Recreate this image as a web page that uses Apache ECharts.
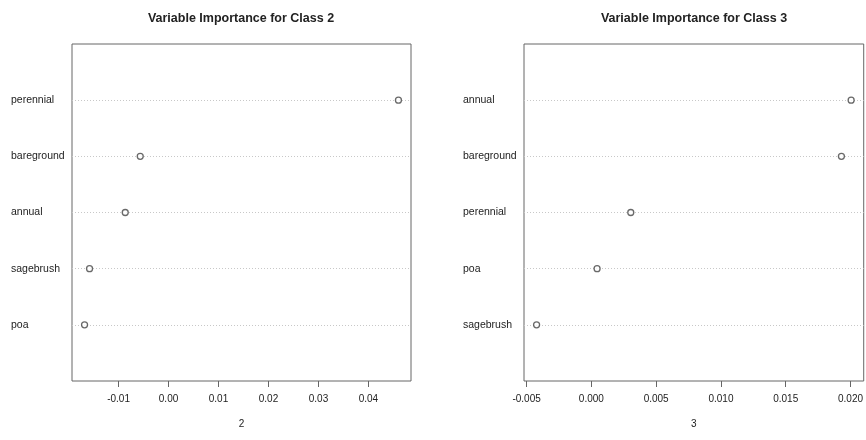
<!DOCTYPE html>
<html>
<head>
<meta charset="utf-8">
<script src="https://cdn.jsdelivr.net/npm/echarts@6/dist/echarts.min.js"></script>
<style>html,body{margin:0;padding:0;background:#fff}#c{width:866px;height:440px}</style>
</head>
<body>
<div id="c"></div>
<script>
// ---- data ----
var titles = ['Variable Importance for Class 2', 'Variable Importance for Class 3'];
var axisNames = ['2', '3'];
// bottom-to-top order
var catsClass2 = ['poa', 'sagebrush', 'annual', 'bareground', 'perennial'];
var valsClass2 = [-0.0168, -0.0158, -0.00866, -0.00566, 0.0460];
var catsClass3 = ['sagebrush', 'poa', 'perennial', 'bareground', 'annual'];
var valsClass3 = [-0.00423, 0.00044, 0.00304, 0.0193, 0.02005];
var ticksClass2 = [-0.01, 0.00, 0.01, 0.02, 0.03, 0.04];
var ticksClass3 = [-0.005, 0.000, 0.005, 0.010, 0.015, 0.020];
var tickDigits = [2, 3];

// ---- chart ----
var FONT = '"Liberation Sans", Arial, Helvetica, sans-serif';
var chart = echarts.init(document.getElementById('c'), null, {renderer: 'canvas'});
var panels = [
  {cats: catsClass2, vals: valsClass2, ticks: ticksClass2, left: 72, width: 339, cx: 241},
  {cats: catsClass3, vals: valsClass3, ticks: ticksClass3, left: 524, width: 340, cx: 694}
];
var grids = [], xAxes = [], yAxes = [], series = [], graphics = [];
panels.forEach(function (p, i) {
  var dmin = Math.min.apply(null, p.vals), dmax = Math.max.apply(null, p.vals);
  var ext = (dmax - dmin) * 0.04;
  grids.push({left: p.left, top: 44, width: p.width, height: 337, show: true,
    borderColor: '#666', borderWidth: 1, backgroundColor: 'transparent', containLabel: false});
  var digits = tickDigits[i];
  xAxes.push({type: 'value', gridIndex: i, min: dmin - ext, max: dmax + ext,
    name: axisNames[i], nameLocation: 'middle', nameGap: 38,
    nameTextStyle: {fontFamily: FONT, fontSize: 10, color: '#222'},
    axisLine: {show: false},
    axisTick: {show: true, customValues: p.ticks, length: 6, lineStyle: {color: '#666', width: 1}},
    axisLabel: {show: true, customValues: p.ticks, margin: 13, fontFamily: FONT, fontSize: 10, color: '#222',
      formatter: function (v) { return Number(v).toFixed(digits); }},
    splitLine: {show: false}
  });
  var axisData = [''].concat(p.cats, ['']);
  yAxes.push({type: 'category', gridIndex: i, data: axisData, boundaryGap: false,
    axisLine: {show: false}, axisTick: {show: false},
    axisLabel: {show: true, interval: 0, align: 'left', margin: 61, fontFamily: FONT, fontSize: 10.5, color: '#222'},
    splitLine: {show: true, interval: function (idx) { return idx > 0 && idx < axisData.length - 1; },
      lineStyle: {color: '#c8c8c8', type: [1, 2], width: 1}}
  });
  series.push({type: 'scatter', xAxisIndex: i, yAxisIndex: i,
    data: p.vals.map(function (v, k) { return [v, p.cats[k]]; }),
    symbol: 'circle', symbolSize: 6,
    itemStyle: {color: '#fff', borderColor: '#444', borderWidth: 1.3},
    emphasis: {disabled: true}, silent: true, z: 5
  });
  graphics.push({type: 'text', x: p.cx, y: 19,
    style: {text: titles[i], textAlign: 'center', textVerticalAlign: 'middle',
      font: 'bold 12.5px ' + FONT, fill: '#222'}});
});
chart.setOption({
  animation: false,
  grid: grids, xAxis: xAxes, yAxis: yAxes, series: series, graphic: graphics
});
</script>
</body>
</html>
